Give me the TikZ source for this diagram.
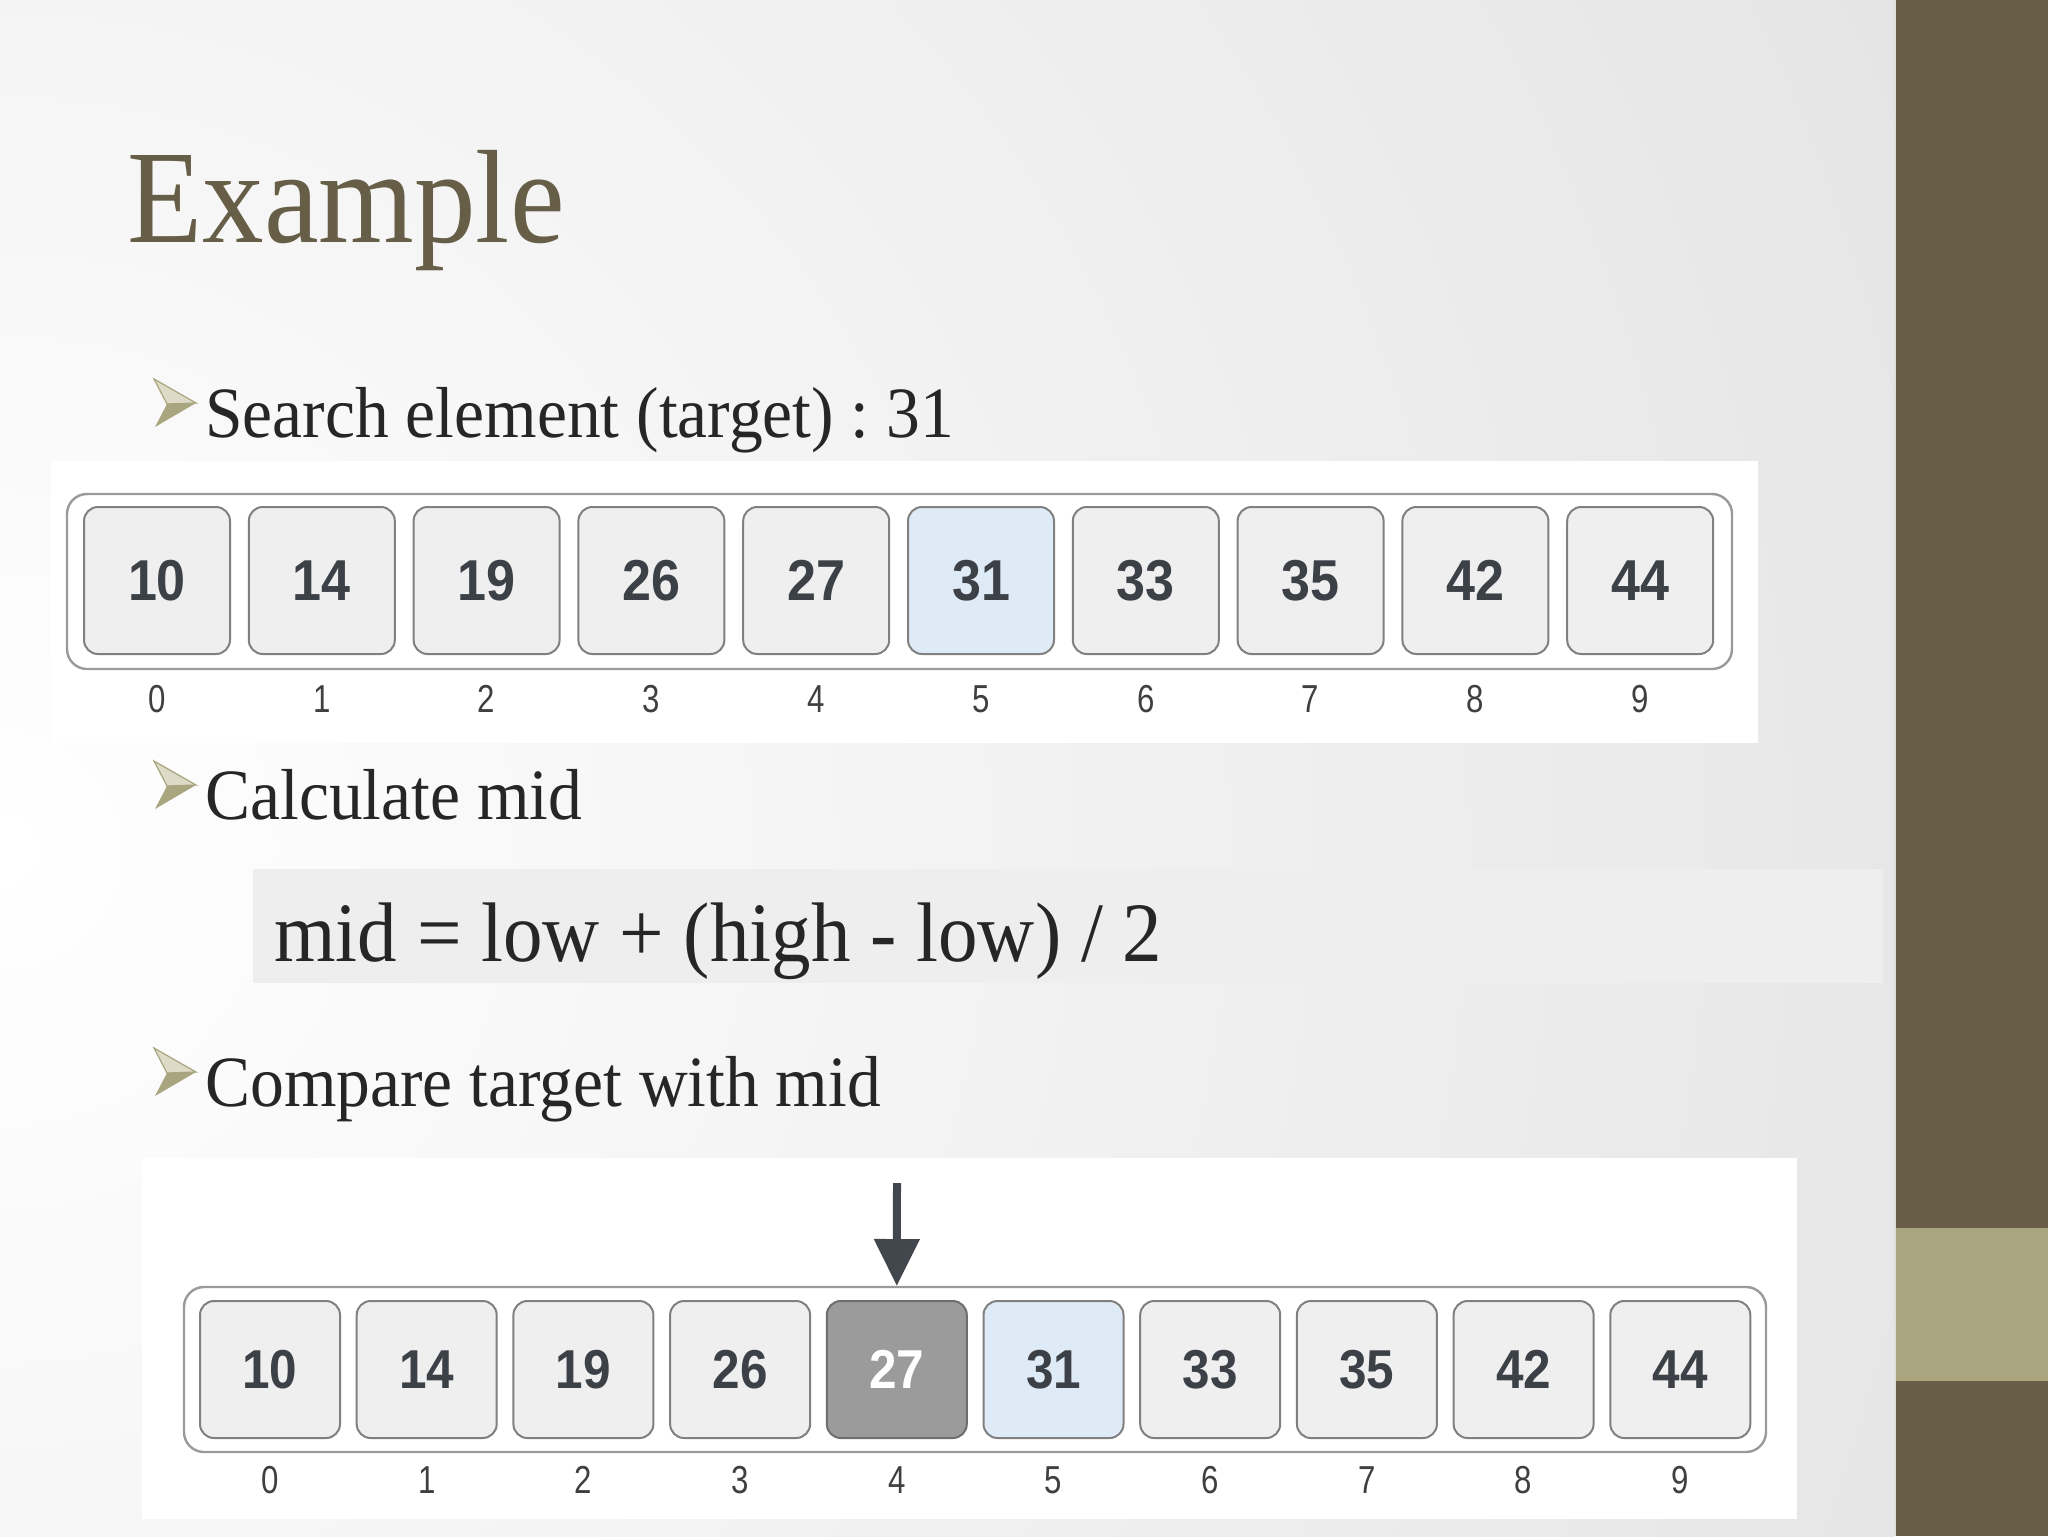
\documentclass[tikz,border=0pt]{standalone}
\usepackage{fontspec}
\usepackage{graphicx}
\setmainfont{Liberation Serif}
\newfontfamily\numfont{Liberation Sans}
\usetikzlibrary{arrows.meta}
\frenchspacing
\definecolor{bggray}{HTML}{D8D8D8}
\definecolor{stripbrown}{HTML}{685E48}
\definecolor{striptan}{HTML}{A9A57E}
\definecolor{titlecol}{HTML}{675E47}
\definecolor{bodytext}{HTML}{262626}
\definecolor{arrowlight}{HTML}{DDDAC8}
\definecolor{arrowdark}{HTML}{A9A57E}
\definecolor{formulabg}{HTML}{EEEEEE}
\definecolor{cellfill}{HTML}{EFEFEF}
\definecolor{cellborder}{HTML}{808080}
\definecolor{outerborder}{HTML}{9A9A9A}
\definecolor{hlblue}{HTML}{DFEAF7}
\definecolor{darkcell}{HTML}{9B9B9B}
\definecolor{darkborder}{HTML}{6E6E6E}
\definecolor{digitcol}{HTML}{3C4147}
\definecolor{idxcol}{HTML}{3F3F3F}
\definecolor{pointercol}{HTML}{42474D}
\tikzset{
  bullettext/.style={anchor=base west, inner sep=0pt, text=bodytext, font=\fontsize{33.75}{40}\selectfont},
  barrow/.pic={
    \fill[arrowlight, draw=arrowdark, line width=0.6pt] (0,0) -- (42,24) -- (13,25) -- cycle;
    \fill[arrowdark] (13,25) -- (42,24) -- (1,48) -- cycle;
  },
  outerbox/.style={draw=outerborder, line width=1.2pt, rounded corners=10pt, fill=white},
  cellbase/.style={draw=cellborder, fill=cellfill, line width=1pt, rounded corners=7pt,
    text=digitcol, font=\numfont\bfseries\fontsize{28}{30}\selectfont, inner sep=0pt},
  cellA/.style={cellbase, minimum width=73pt, minimum height=73.5pt},
  cellB/.style={cellbase, minimum width=70pt, minimum height=68.5pt, font=\numfont\bfseries\fontsize{26.6}{30}\selectfont},
  hlcell/.style={fill=hlblue},
  darkcellst/.style={fill=darkcell, draw=darkborder, text=white},
  mkA5/.style={hlcell},
  mkB4/.style={darkcellst},
  mkB5/.style={hlcell},
  idx/.style={text=idxcol, font=\numfont\fontsize{19.5}{22}\selectfont, inner sep=0pt},
}
\begin{document}
\begin{tikzpicture}[x=0.5pt,y=-0.5pt]
\useasboundingbox (0,0) rectangle (2048,1536);
% background
\begin{scope}
  \clip (0,0) rectangle (1894,1536);
  \fill[bggray] (0,0) rectangle (1894,1536);
  \shade[inner color=white, outer color=bggray] (-3100,-2250) rectangle (3100,3950);
\end{scope}
\fill[stripbrown] (1894,0) rectangle (2048,1536);
\fill[striptan] (1894,1228) rectangle (2048,1381);
\draw[white!80!stripbrown, line width=0.8pt] (1895,0) -- (1895,1536);

% title
\node[anchor=base west, inner sep=0pt, text=titlecol, font=\fontsize{61.5}{70}\selectfont] (title) at (127,242) {\scalebox{1}[1.08]{Example}};

% bullet 1
\pic at (154,379) {barrow};
\node[bullettext] (b1) at (205,437) {\scalebox{1}[1.07]{Search element (target) : 31}};

% panel 1
\fill[white] (51,461) rectangle (1758,743);
\draw[outerbox] (67,494) rectangle (1732,669);
\foreach \v [count=\i from 0] in {10,14,19,26,27,31,33,35,42,44}{
  \node[cellA, mkA\i/.try] (a\i) at ({157+164.8*\i},580.5) {\scalebox{0.93}[1.03]{\v}};
  \node[idx] (ia\i) at ({157+164.8*\i},699) {\scalebox{0.8}[1]{\i}};
}

% bullet 2
\pic at (154,761) {barrow};
\node[bullettext] (b2) at (205,819) {\scalebox{1}[1.07]{Calculate mid}};

% formula
\fill[formulabg] (253,869) rectangle (1883,983);
\node[anchor=base west, inner sep=0pt, text=bodytext, font=\fontsize{39.5}{46}\selectfont] (formula) at (274,961) {\scalebox{1}[1.07]{mid = low + (high - low) / 2}};

% bullet 3
\pic at (154,1048) {barrow};
\node[bullettext] (b3) at (205,1106) {\scalebox{1}[1.07]{Compare target with mid}};

% panel 2
\fill[white] (142,1158) rectangle (1797,1519);
\draw[outerbox] (184,1287) rectangle (1766,1452);
\foreach \v [count=\i from 0] in {10,14,19,26,27,31,33,35,42,44}{
  \node[cellB, mkB\i/.try] (c\i) at ({270+156.7*\i},1369.5) {\scalebox{0.93}[1.03]{\v}};
  \node[idx] (ic\i) at ({270+156.7*\i},1480) {\scalebox{0.8}[1]{\i}};
}
\coordinate (ptop) at (897,1183);
\draw[pointercol, line width=4pt, -{Triangle[length=23.5pt,width=22pt]}] (ptop) -- ([yshift=7pt]c4.north);
\end{tikzpicture}
\end{document}
